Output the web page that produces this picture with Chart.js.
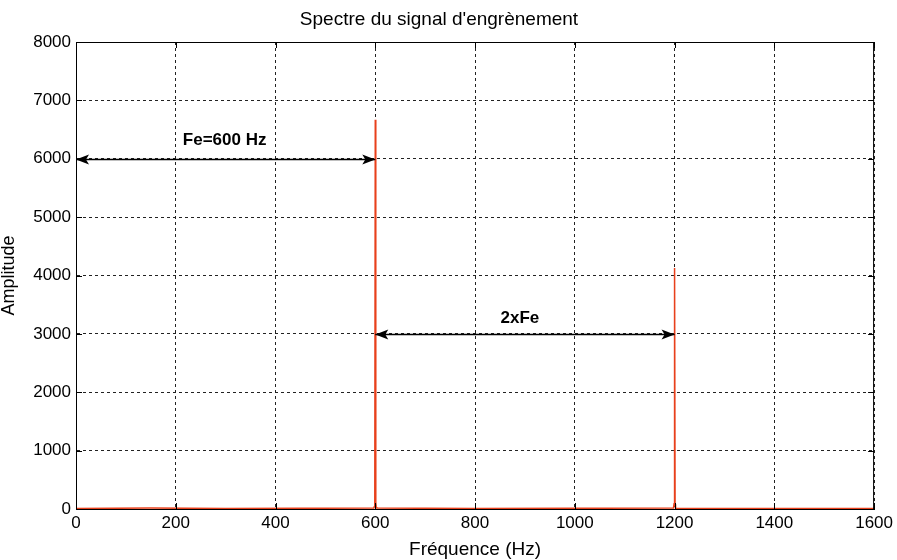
<!DOCTYPE html>
<html>
<head>
<meta charset="utf-8">
<script src="https://cdn.jsdelivr.net/npm/chart.js@4/dist/chart.umd.min.js"></script>
<style>
  html, body { margin: 0; padding: 0; background: #fff; }
  #wrap { width: 897px; height: 560px; }
</style>
</head>
<body>
<div id="wrap"><canvas id="myChart" width="897" height="560"></canvas></div>
<script>
// spectrum samples (Hz, amplitude)
const freqs = [0, 150, 300, 450, 597, 598, 599, 600, 601, 602, 603, 800, 1000, 1197, 1198, 1199, 1200, 1201, 1202, 1203, 1400, 1600];
const amps  = [10, 15, 10, 12, 15, 40, 120, 6670, 110, 35, 15, 10, 12, 15, 30, 90, 4130, 80, 25, 12, 10, 8];

const xTicks = [0, 200, 400, 600, 800, 1000, 1200, 1400, 1600];
const yTicks = [0, 1000, 2000, 3000, 4000, 5000, 6000, 7000, 8000];

// annotation arrows: [x from, x to, y]
const arrows = [[0, 600, 6000], [600, 1200, 3000]];
const arrowLabels = ["Fe=600 Hz", "2xFe"];
const labelPos = [[298, 6310], [890, 3270]];

const points = freqs.map((f, i) => ({x: f, y: amps[i]}));

const FAM = '"Liberation Sans", Arial, sans-serif';

const arrowPlugin = {
    id: 'arrows',
    afterDatasetsDraw(chart) {
        const ctx = chart.ctx;
        const xs = chart.scales.x, ys = chart.scales.y;
        const a = chart.chartArea;
        ctx.save();
        // frame
        ctx.strokeStyle = '#000';
        ctx.lineWidth = 1;
        ctx.strokeRect(a.left + 0.5, a.top + 0.5, a.right - a.left - 1, a.bottom - a.top);
        // inner tick marks
        xTicks.forEach(t => {
            const px = Math.round(xs.getPixelForValue(t)) + 0.5;
            ctx.beginPath();
            ctx.moveTo(px, a.bottom); ctx.lineTo(px, a.bottom - 6);
            ctx.moveTo(px, a.top); ctx.lineTo(px, a.top + 6);
            ctx.stroke();
        });
        yTicks.forEach(t => {
            const py = Math.round(ys.getPixelForValue(t)) + 0.5;
            ctx.beginPath();
            ctx.moveTo(a.left, py); ctx.lineTo(a.left + 6, py);
            ctx.moveTo(a.right, py); ctx.lineTo(a.right - 6, py);
            ctx.stroke();
        });
        // arrows
        ctx.lineWidth = 1.5;
        ctx.fillStyle = '#000';
        arrows.forEach(ar => {
            const x1 = xs.getPixelForValue(ar[0]);
            const x2 = xs.getPixelForValue(ar[1]);
            const y = Math.round(ys.getPixelForValue(ar[2])) + 0.5;
            ctx.beginPath();
            ctx.moveTo(x1, y); ctx.lineTo(x2, y);
            ctx.stroke();
            [[x1, 1], [x2, -1]].forEach(h => {
                const hx = h[0], d = h[1];
                ctx.beginPath();
                ctx.moveTo(hx, y);
                ctx.lineTo(hx + d * 13, y - 5);
                ctx.lineTo(hx + d * 10, y);
                ctx.lineTo(hx + d * 13, y + 5);
                ctx.closePath();
                ctx.fill();
            });
        });
        ctx.font = 'bold 17px ' + FAM;
        ctx.textAlign = 'center';
        ctx.textBaseline = 'middle';
        arrowLabels.forEach((txt, i) => {
            ctx.fillText(txt, xs.getPixelForValue(labelPos[i][0]), ys.getPixelForValue(labelPos[i][1]));
        });
        ctx.restore();
    }
};

const font = {family: FAM, size: 17};

const ctx = document.getElementById("myChart").getContext("2d");
const myChart = new Chart(ctx, {
    type: 'scatter',
    data: {
        datasets: [{
            data: points,
            showLine: true,
            borderColor: '#e8401c',
            borderWidth: 1.5,
            pointRadius: 0,
            tension: 0
        }]
    },
    options: {
        responsive: false,
        animation: false,
        layout: {padding: {left: 0, right: 19, top: 0, bottom: 0}},
        plugins: {
            legend: {display: false},
            tooltip: {enabled: false},
            title: {
                display: true,
                text: "Spectre du signal d'engrènement",
                color: '#000',
                font: {family: FAM, size: 19, weight: 'normal', lineHeight: 1},
                padding: {top: 10, bottom: 13}
            }
        },
        scales: {
            x: {
                type: 'linear',
                min: 0, max: 1600,
                afterBuildTicks: s => { s.ticks = xTicks.map(v => ({value: v})); },
                afterFit: s => { s.height = 51; },
                grid: {color: '#222', lineWidth: 1, drawTicks: false},
                border: {display: true, color: '#000', width: 1, dash: [3, 3]},
                ticks: {color: '#000', font: font, padding: 4, maxRotation: 0, callback: v => String(v)},
                title: {display: true, text: 'Fréquence (Hz)', color: '#000', font: {family: FAM, size: 19, lineHeight: 1}, padding: {top: 0, bottom: 1}}
            },
            y: {
                min: 0, max: 8000,
                afterBuildTicks: s => { s.ticks = yTicks.map(v => ({value: v})); },
                afterFit: s => { s.width = 76; },
                grid: {color: '#222', lineWidth: 1, drawTicks: false},
                border: {display: true, color: '#000', width: 1, dash: [3, 3]},
                ticks: {color: '#000', font: font, padding: 5, callback: v => String(v)},
                title: {display: true, text: 'Amplitude', color: '#000', font: {family: FAM, size: 18, lineHeight: 1}, padding: {top: 0, bottom: 8}}
            }
        }
    },
    plugins: [arrowPlugin]
});
</script>
</body>
</html>
